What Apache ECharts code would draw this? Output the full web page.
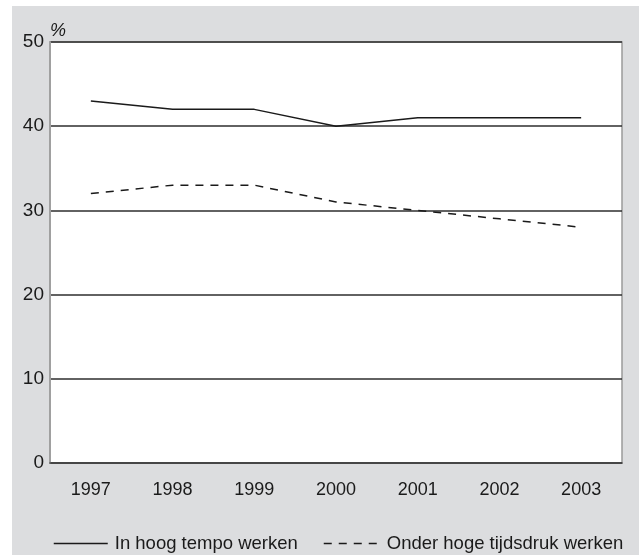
<!DOCTYPE html>
<html>
<head>
<meta charset="utf-8">
<script src="https://cdn.jsdelivr.net/npm/echarts@6/dist/echarts.min.js"></script>
<style>html,body{margin:0;padding:0;background:#fff}#c{width:639px;height:555px}</style>
</head>
<body>
<div id="c"></div>
<script>
const years = ['1997','1998','1999','2000','2001','2002','2003'];
const hoogTempo = [43, 42, 42, 40, 41, 41, 41];
const tijdsdruk = [32, 33, 33, 31, 30, 29, 28];
const seriesNames = ['In hoog tempo werken', 'Onder hoge tijdsdruk werken'];
const yTicks = [0, 10, 20, 30, 40, 50];

const font = 'Liberation Sans, Arial, sans-serif';
const chart = echarts.init(document.getElementById('c'), null, {renderer: 'canvas'});
chart.setOption({
  backgroundColor: '#ffffff',
  animation: false,
  graphic: [{
    type: 'rect', z: -10, silent: true,
    shape: {x: 12, y: 6, width: 627, height: 549},
    style: {fill: '#dcdddf'}
  }],
  grid: {
    left: 50, top: 42, right: 17, bottom: 92,
    show: true, backgroundColor: '#ffffff', borderColor: '#9a9a9a', borderWidth: 1.5
  },
  legend: [{
    left: 48, top: 529, itemWidth: 54, itemHeight: 18,
    data: [seriesNames[0]],
    itemStyle: {opacity: 0},
    lineStyle: {width: 1.5},
    textStyle: {fontFamily: font, fontSize: 18.5, color: '#1a1a1a', padding: [0, 0, 0, 2]}
  }, {
    left: 318, top: 529, itemWidth: 58, itemHeight: 18,
    data: [seriesNames[1]],
    itemStyle: {opacity: 0},
    lineStyle: {width: 1.5},
    textStyle: {fontFamily: font, fontSize: 18.5, color: '#1a1a1a', padding: [0, 0, 0, 0]}
  }],
  xAxis: {
    type: 'category', data: years, boundaryGap: true,
    axisLine: {lineStyle: {color: '#444', width: 1.5}},
    axisTick: {alignWithLabel: true, length: 5, lineStyle: {color: '#888', width: 1}},
    axisLabel: {fontFamily: font, fontSize: 18, color: '#1a1a1a', margin: 18},
    splitLine: {show: false}
  },
  yAxis: {
    type: 'value', min: yTicks[0], max: yTicks[yTicks.length - 1], interval: 10,
    name: '%', nameLocation: 'end', nameGap: 2,
    nameTextStyle: {fontFamily: font, fontSize: 18, color: '#1a1a1a', align: 'left', verticalAlign: 'bottom', fontStyle: 'italic'},
    axisLine: {show: true, lineStyle: {color: '#a0a0a0', width: 2}},
    axisTick: {show: false},
    axisLabel: {fontFamily: font, fontSize: 19, color: '#1a1a1a', margin: 6},
    splitLine: {show: true, lineStyle: {color: '#2e2e2e', width: 1.5}}
  },
  series: [{
    name: seriesNames[0], type: 'line', data: hoogTempo, symbol: 'none',
    lineStyle: {color: '#1a1a1a', width: 1.5, type: 'solid'},
    itemStyle: {color: '#1a1a1a'}
  }, {
    name: seriesNames[1], type: 'line', data: tijdsdruk, symbol: 'none',
    lineStyle: {color: '#1a1a1a', width: 1.5, type: [8, 7]},
    itemStyle: {color: '#1a1a1a'}
  }]
});
</script>
</body>
</html>
